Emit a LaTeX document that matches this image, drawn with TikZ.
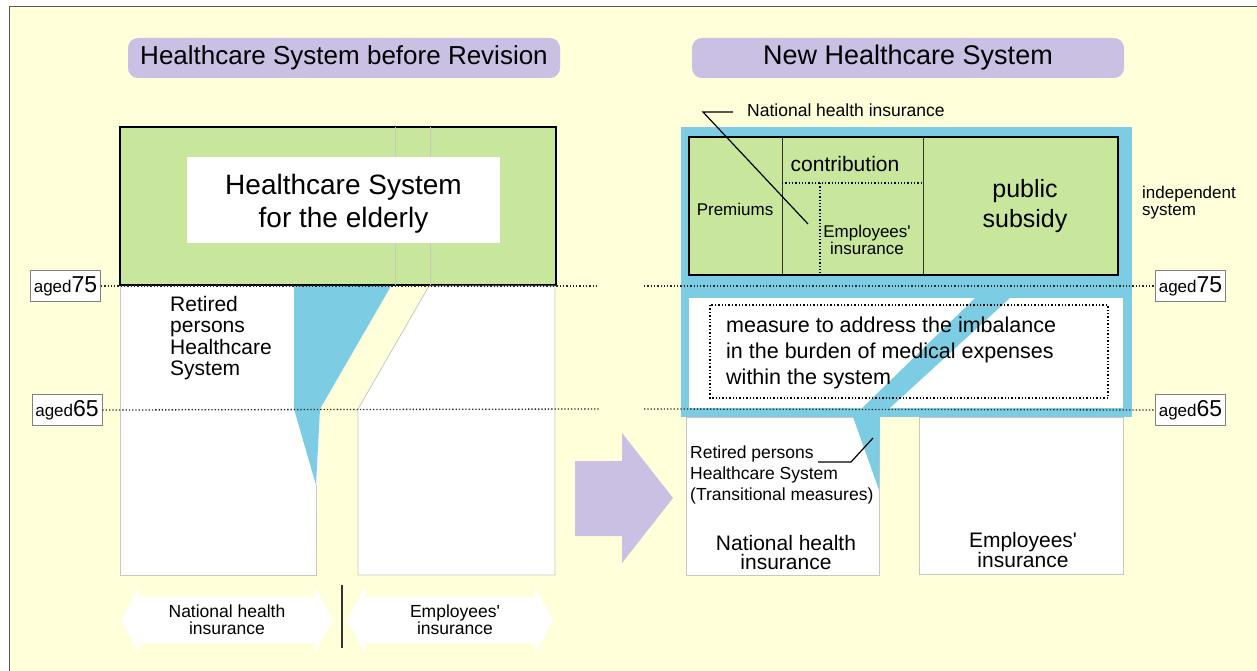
\documentclass[tikz,border=0pt]{standalone}
\usepackage{fontspec}
\setmainfont{Liberation Sans}[Ligatures=TeXOff]
\definecolor{bgyellow}{HTML}{FFFFD9}
\definecolor{pill}{HTML}{C9C0E4}
\definecolor{grn}{HTML}{C8E69C}
\definecolor{blu}{HTML}{7CCDE4}
\definecolor{colgray}{HTML}{C8C8C0}
\definecolor{framegray}{HTML}{5A5A50}
\newcommand\fs[2]{\fontsize{#1}{#2}\selectfont}
\begin{document}
\begin{tikzpicture}[x=1pt,y=-1pt,
  txt/.style={inner sep=0pt, align=center},
  ltxt/.style={inner sep=0pt, align=left, anchor=west},
  pillbox/.style={fill=pill, rounded corners=10pt, inner sep=0pt, minimum width=432pt, minimum height=40pt},
  colline/.style={draw=colgray, line width=0.8pt},
  agebox/.style={draw=gray, fill=white, line width=0.8pt, inner sep=0pt, minimum width=70pt, minimum height=31pt},
  ageline/.style={dotted, line width=1.3pt, black!85},
  leader/.style={line width=1.2pt, black},
  greenbox/.style={fill=grn, draw=black, line width=1.3pt},
]
\useasboundingbox (0,0) rectangle (1257,671);
\fill[white] (0,0) rectangle (1257,671);
\fill[bgyellow] (9,7) rectangle (1257,671);
\draw[framegray, line width=1pt] (9,671) -- (9,7) -- (1257,7);

% titles
\node[pillbox, font=\fs{26}{28}] (t1) at (344,58) {Healthcare System before Revision};
\node[pillbox, font=\fs{27}{28}] (t2) at (908,58) {New Healthcare System};

% ---------- left diagram ----------
\filldraw[greenbox] (120,127) rectangle (556,285);
\draw[colgray, line width=0.8pt] (395,127) -- (395,285) (430,127) -- (430,285);
\node[fill=white, inner sep=0pt, minimum width=313pt, minimum height=86pt] (elderlybox) at (343.5,200) {};
\node[txt, font=\fs{28}{33}] (elderly) at (343.5,203.5) {Healthcare System\\for the elderly};

\fill[white] (120,286) -- (391,286) -- (320,409) -- (316,575) -- (120,575) -- cycle;
\fill[white] (429,286) -- (555,286) -- (555,575) -- (358,575) -- (358,409) -- cycle;
\draw[colline] (316,485) -- (316,575) -- (120,575) -- (120,286);
\draw[colline] (429,286) -- (555,286) -- (555,575) -- (358,575) -- (358,409) -- cycle;
\fill[blu] (294,286) -- (391,286) -- (320,409) -- (316,485) -- (294,409) -- cycle;

\node[ltxt, font=\fs{21}{21.4}] (retl) at (170,338) {Retired\\persons\\Healthcare\\System};

\node[agebox] (a75l) at (65.5,286) {\fs{17}{17}aged\fs{23}{23}75};
\node[agebox] (a65l) at (67,410) {\fs{17}{17}aged\fs{23}{23}65};
\coordinate (e75l) at (599,286);
\coordinate (e65l) at (599,409);
\draw[ageline] (a75l.east) -- (e75l);
\draw[ageline] (a65l.east) -- (e65l);

% bottom double arrows
\fill[white] (121,620) -- (139,587) -- (139,597) -- (315,597) -- (315,587) -- (333,620) -- (315,653) -- (315,643) -- (139,643) -- (139,653) -- cycle;
\fill[white] (347,620) -- (365,587) -- (365,597) -- (535,597) -- (535,587) -- (553,620) -- (535,653) -- (535,643) -- (365,643) -- (365,653) -- cycle;
\node[txt, font=\fs{17.5}{17}] (nhiarrow) at (227,620) {National health\\insurance};
\node[txt, font=\fs{17.5}{17}] (emparrow) at (455,620) {Employees'\\insurance};
\coordinate (sep1) at (342,585);
\coordinate (sep2) at (342,648);
\draw[black!80, line width=1.2pt] (sep1) -- (sep2);

% big arrow
\fill[pill] (575,461) -- (622,461) -- (622,433) -- (673,498) -- (622,563) -- (622,536) -- (575,536) -- cycle;

% ---------- right diagram ----------
\filldraw[fill=white, colline] (686,417) rectangle (879,575);
\filldraw[fill=white, colline] (919,417) rectangle (1123,574);

\fill[blu] (681,127) rectangle (1132,417);
\filldraw[greenbox] (689,137) rectangle (1118,275);
\draw[black!80, line width=0.8pt] (782,137) -- (782,275) (923,137) -- (923,275);
\draw[dotted, line width=1.3pt] (782,183) -- (923,183) (820,183) -- (820,275);

\fill[white] (689,298) rectangle (1123,408);
\fill[blu] (975,298) -- (1010,298) -- (880,417) -- (879,490) -- (853,417) -- cycle;
\draw[dotted, line width=1.4pt] (710,305) rectangle (1108,398);

\node[txt, font=\fs{17}{17}] (prem) at (735,209) {Premiums};
\node[txt, font=\fs{21}{21}] (contr) at (845,164) {contribution};
\node[txt, font=\fs{17}{16.5}] (empins) at (867,240) {Employees'\\insurance};
\node[txt, font=\fs{25}{30}] (pubsub) at (1025,206) {public\\subsidy};
\node[ltxt, font=\fs{17}{17}] (indep) at (1142,202.5) {independent\\system};
\node[ltxt, font=\fs{17.5}{17.5}] (nhitop) at (747,110) {National health insurance};
\coordinate (l1a) at (733,112);
\coordinate (l1b) at (703,112);
\coordinate (l1c) at (808,224);
\draw[leader] (l1a) -- (l1b) -- (l1c);

\node[ltxt, font=\fs{21.5}{26}] (measure) at (726,353) {measure to address the imbalance\\in the burden of medical expenses\\within the system};

\node[ltxt, font=\fs{17.5}{21}] (retr) at (690,475) {Retired persons\\Healthcare System\\(Transitional measures)};
\coordinate (l2a) at (818,462);
\coordinate (l2b) at (851,462);
\coordinate (l2c) at (873,438);
\draw[leader] (l2a) -- (l2b) -- (l2c);

\node[txt, font=\fs{21}{19}] (nhicol) at (786,552) {National health\\insurance};
\node[txt, font=\fs{21}{18}] (empcol) at (1023,550) {Employees'\\insurance};

\node[agebox] (a75r) at (1190.5,286) {\fs{17}{17}aged\fs{23}{23}75};
\node[agebox] (a65r) at (1190.5,410) {\fs{17}{17}aged\fs{23}{23}65};
\coordinate (s75r) at (644,286);
\coordinate (s65r) at (644,409);
\draw[ageline] (s75r) -- (a75r.west);
\draw[ageline] (s65r) -- (a65r.west);
\end{tikzpicture}
\end{document}
